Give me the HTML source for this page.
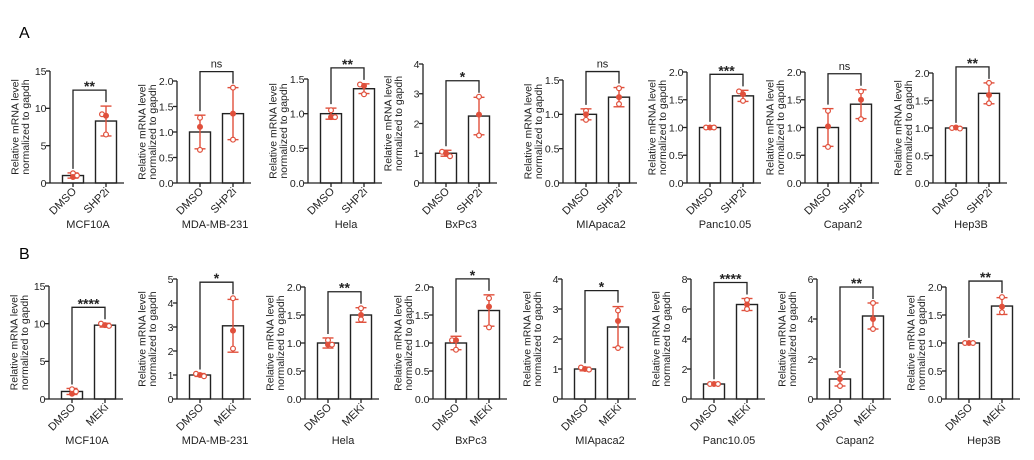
<!DOCTYPE html>
<html><head><meta charset="utf-8">
<style>
html,body{margin:0;padding:0;background:#fff;}
svg{display:block;font-family:"Liberation Sans",Arial,sans-serif;}
</style></head>
<body>
<svg id="fig" width="1034" height="460" viewBox="0 0 1034 460" xmlns="http://www.w3.org/2000/svg">
<text x="19" y="38" font-size="16">A</text>
<text x="19" y="259" font-size="16">B</text>
</svg>
<script>
// ---- data ----
const cellLines = ["MCF10A","MDA-MB-231","Hela","BxPc3","MIApaca2","Panc10.05","Capan2","Hep3B"];
const rowTreat = ["SHP2i","MEKi"];
const sigA = ["**","ns","**","*","ns","***","ns","**"];
const sigB = ["****","*","**","*","*","****","**","**"];
const maxA = [15,2,1.5,4,1.5,2,2,2];
const stepA = [5,0.5,0.5,1,0.5,0.5,0.5,0.5];
const maxB = [15,5,2,2,4,8,6,2];
const stepB = [5,1,0.5,0.5,1,2,2,0.5];
const decA = [0,1,1,0,1,1,1,1];
const decB = [0,0,1,1,0,0,0,1];
// means
const meanCtrlA = [1,1,1,1,1,1,1,1];
const meanTrtA = [8.3,1.36,1.36,2.25,1.25,1.57,1.42,1.63];
const sdCtrlA = [0.35,0.33,0.08,0.1,0.08,0.03,0.34,0.02];
const sdTrtA = [2.0,0.51,0.07,0.63,0.14,0.1,0.26,0.19];
const ptsCtrlA = [[1.3,0.8,1.0],[1.28,1.1,0.65],[1.05,0.95,0.95],[1.05,1.0,0.9],[1.05,1.0,0.92],[1.0,1.0,1.0],[1.3,1.02,0.65],[1.0,1.01,0.99]];
const ptsTrtA = [[9.2,9.0,6.5],[1.87,1.36,0.85],[1.42,1.4,1.28],[2.9,2.3,1.6],[1.38,1.25,1.15],[1.65,1.6,1.48],[1.65,1.5,1.15],[1.82,1.6,1.45]];
const meanCtrlB = [1,1,1,1,1,1,1,1];
const meanTrtB = [9.8,3.05,1.5,1.58,2.4,6.3,4.15,1.66];
const sdCtrlB = [0.4,0.06,0.09,0.12,0.06,0.05,0.35,0.02];
const sdTrtB = [0.25,1.1,0.13,0.28,0.68,0.4,0.65,0.15];
const ptsCtrlB = [[1.3,0.7,1.0],[1.05,1.0,0.95],[1.05,0.97,0.97],[1.05,1.05,0.88],[1.05,1.0,0.98],[1,1,1],[1.3,1.0,0.65],[1,1,1]];
const ptsTrtB = [[10.0,9.8,9.7],[4.2,2.85,2.1],[1.62,1.5,1.42],[1.8,1.65,1.28],[2.95,2.6,1.7],[6.6,6.3,6.0],[4.8,4.0,3.5],[1.82,1.65,1.55]];

// ---- layout ----
const axXA=[50,177,308,423,563,687,805,933], topA=[71,81,79,64,80,72,72,73], baseA=183;
const axXB=[49,177,305,433,562,691,817,946], topB=[286,279,287,287,279,279,279,287], baseB=399;

const svg=document.getElementById('fig');
const NS='http://www.w3.org/2000/svg';
const RED='#e0503c';
function mk(tag,attrs,parent){const e=document.createElementNS(NS,tag);for(const k in attrs)e.setAttribute(k,attrs[k]);(parent||svg).appendChild(e);return e;}

function panel(ax,top,base,max,step,dec,mc,mt,sc,st,pc,pt,sig,treat,title,id){
  const g=mk('g',{});
  
  
  const y=v=>base-(v/max)*(base-top);
  const cx=[ax+23,ax+56], bw=21;
  [[mc,0],[mt,1]].forEach(([m,i])=>{
    const r=mk('rect',{x:cx[i]-bw/2,y:y(m),width:bw,height:base-y(m),fill:'#fff',stroke:'#222','stroke-width':1.4},g);
    
    
  });
  const ya=mk('line',{x1:ax,y1:base,x2:ax,y2:top,stroke:'#222','stroke-width':1.3},g);
  
  
  const xa=mk('line',{x1:ax,y1:base,x2:ax+74,y2:base,stroke:'#222','stroke-width':1.3},g);
  
  
  for(let v=0;v<=max+1e-9;v+=step){
    mk('line',{x1:ax-4,y1:y(v),x2:ax,y2:y(v),stroke:'#222','stroke-width':1.3},g);
    const t=mk('text',{x:ax-3.5,y:y(v)+3.8,'font-size':10.5,'text-anchor':'end',fill:'#222'},g);
    t.textContent=v.toFixed(dec);
    
    
  }
  ['DMSO',treat].forEach((lab,i)=>{
    mk('line',{x1:cx[i],y1:base,x2:cx[i],y2:base+4,stroke:'#222','stroke-width':1.3},g);
    const t=mk('text',{x:cx[i]+4,y:base+9,'font-size':11,'text-anchor':'end',fill:'#222',transform:`rotate(-45 ${cx[i]+4} ${base+9})`},g);
    t.textContent=lab;
    
    
  });
  const mid=(top+base)/2;
  ['Relative mRNA level','normalized to gapdh'].forEach((s,i)=>{
    const xx=ax-31.5+i*10.5;
    const t=mk('text',{x:xx,y:mid,'font-size':10.5,'text-anchor':'middle',fill:'#222',transform:`rotate(-90 ${xx} ${mid})`},g);
    t.textContent=s;
    
    
  });
  const errTop=[];
  [[mc,sc,pc,0],[mt,st,pt,1]].forEach(([m,s,p,i])=>{
    const x=cx[i];
    errTop[i]=Math.min(y(m+s),...p.map(y));
    const e=mk('g',{},g);
    
    
    mk('line',{x1:x,y1:y(m-s),x2:x,y2:y(m+s),stroke:RED,'stroke-width':1.4},e);
    mk('line',{x1:x-5.5,y1:y(m-s),x2:x+5.5,y2:y(m-s),stroke:RED,'stroke-width':1.4},e);
    mk('line',{x1:x-5.5,y1:y(m+s),x2:x+5.5,y2:y(m+s),stroke:RED,'stroke-width':1.4},e);
    p.forEach((v,k)=>{
      const dx=(k-1)*(Math.abs(p[k]-p[1])<max*0.03?4:0);
      const c=mk('circle',{cx:x+dx,cy:y(v),r:2.4,fill:k==1?RED:'#fff',stroke:RED,'stroke-width':1.2},g);
      
      
    });
  });
  const by=Math.min(...errTop)-16;
  const br=mk('path',{d:`M${cx[0]},${errTop[0]-4}V${by}H${cx[1]}V${errTop[1]-4}`,fill:'none',stroke:'#222','stroke-width':1.3},g);
  
  
  const st2=mk('text',{x:(cx[0]+cx[1])/2,y:sig==='ns'?by-4:by+1,'font-size':sig==='ns'?11:14,'font-weight':sig==='ns'?'normal':'bold','text-anchor':'middle',fill:'#222'},g);
  st2.textContent=sig;
  
  
  const tt=mk('text',{x:ax+38,y:base+45,'font-size':11,'text-anchor':'middle',fill:'#222'},g);
  tt.textContent=title;
  
  
}
for(let i=0;i<8;i++){
  panel(axXA[i],topA[i],baseA,maxA[i],stepA[i],decA[i],meanCtrlA[i],meanTrtA[i],sdCtrlA[i],sdTrtA[i],ptsCtrlA[i],ptsTrtA[i],sigA[i],rowTreat[0],cellLines[i],'a-'+i);
  panel(axXB[i],topB[i],baseB,maxB[i],stepB[i],decB[i],meanCtrlB[i],meanTrtB[i],sdCtrlB[i],sdTrtB[i],ptsCtrlB[i],ptsTrtB[i],sigB[i],rowTreat[1],cellLines[i],'b-'+i);
}
</script>
</body></html>
